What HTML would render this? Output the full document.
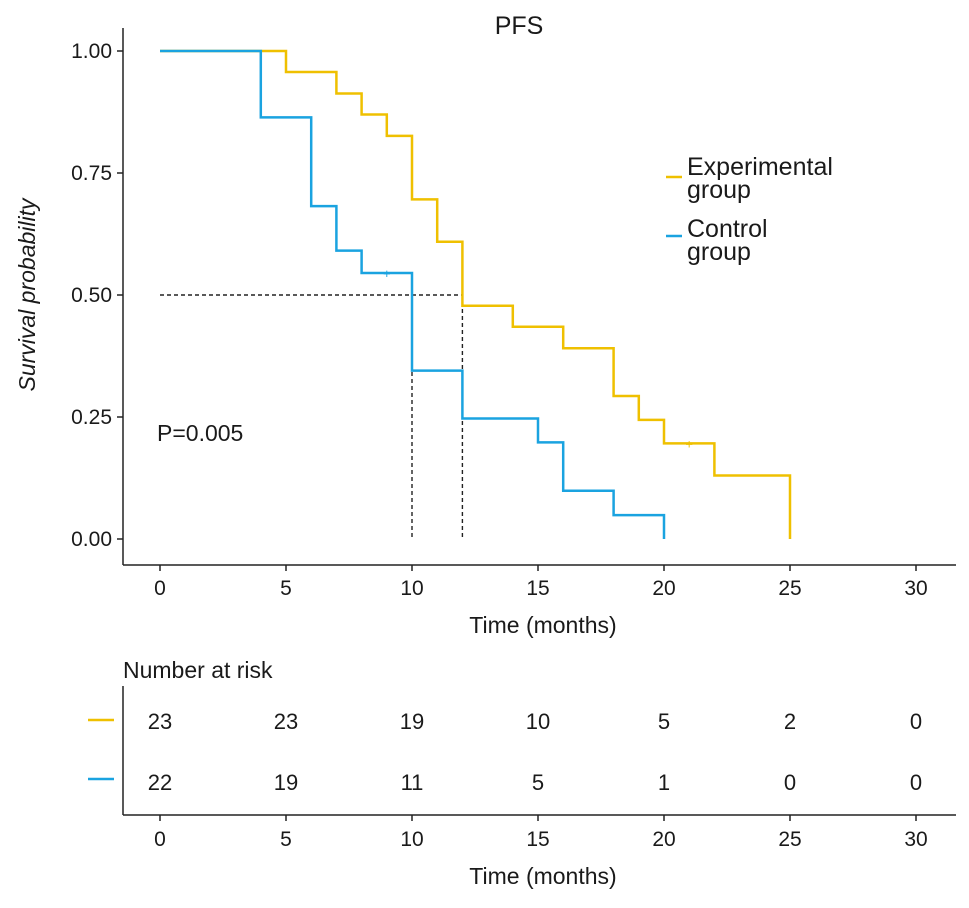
<!DOCTYPE html>
<html><head><meta charset="utf-8"><style>
body{margin:0;background:#fff;font-family:"Liberation Sans",sans-serif}
svg text{font-family:"Liberation Sans",sans-serif}
</style></head><body>
<svg width="969" height="903" xmlns="http://www.w3.org/2000/svg">
<g id="g"></g>
</svg>
<script>
const expTimes=[0,5,7,8,9,10,11,12,14,16,18,19,20,22,25];
const expSurv=[1,0.957,0.913,0.870,0.826,0.696,0.609,0.478,0.435,0.391,0.293,0.244,0.196,0.130,0];
const ctlTimes=[0,4,6,7,8,10,12,15,16,18,20];
const ctlSurv=[1,0.864,0.682,0.591,0.545,0.345,0.247,0.198,0.099,0.049,0];
const expCensor=[[21,0.196]];
const ctlCensor=[[9,0.545]];
const xTicks=[0,5,10,15,20,25,30];
const yTicks=[0,0.25,0.5,0.75,1];
const yTickLabels=["0.00","0.25","0.50","0.75","1.00"];
const expRisk=[23,23,19,10,5,2,0];
const ctlRisk=[22,19,11,5,1,0,0];
const medians=[10,12];
const X=t=>160+t*25.2, Y=s=>539-s*488;
const ns="http://www.w3.org/2000/svg", g=document.getElementById('g');
function el(tag,attrs,name,text){const e=document.createElementNS(ns,tag);for(const k in attrs)e.setAttribute(k,attrs[k]);


if(tag==='text'&&!attrs.fill)e.setAttribute('fill','#1a1a1a');
if(text!==undefined)e.textContent=text;g.appendChild(e);return e;}
el('line',{x1:123,y1:28,x2:123,y2:565,stroke:'#222','stroke-width':1.5},'y-axis');
el('line',{x1:123,y1:565,x2:956,y2:565,stroke:'#222','stroke-width':1.5},'x-axis');
yTicks.forEach((v,i)=>{el('line',{x1:117,x2:123,y1:Y(v),y2:Y(v),stroke:'#222','stroke-width':1.5},'y-tick');
el('text',{x:112,y:Y(v)+7,'text-anchor':'end','font-size':21},'y-tick-label',yTickLabels[i]);});
xTicks.forEach(v=>{el('line',{x1:X(v),x2:X(v),y1:565,y2:571,stroke:'#222','stroke-width':1.5},'x-tick');
el('text',{x:X(v),y:595,'text-anchor':'middle','font-size':21},'x-tick-label',v);});
el('text',{x:543,y:633,'text-anchor':'middle','font-size':23},'x-axis-title','Time (months)');
el('text',{x:0,y:0,'text-anchor':'middle','font-size':23,'font-style':'italic',transform:'translate(35,295) rotate(-90)'},'y-axis-title','Survival probability');
el('text',{x:519,y:34,'text-anchor':'middle','font-size':25},'chart-title','PFS');
el('text',{x:157,y:441,'font-size':23},'p-value','P=0.005');
el('line',{x1:X(0),x2:X(medians[1]),y1:Y(0.5),y2:Y(0.5),stroke:'#222','stroke-width':1.4,'stroke-dasharray':'4,3'},'median-hline');
medians.forEach(m=>el('line',{x1:X(m),x2:X(m),y1:Y(0.5),y2:Y(0),stroke:'#222','stroke-width':1.4,'stroke-dasharray':'4,3'},'median-vline'));
function step(ts,ss,col,name){let d=`M${X(ts[0])},${Y(ss[0])}`;for(let i=1;i<ts.length;i++)d+=`H${X(ts[i])}V${Y(ss[i])}`;
el('path',{d,fill:'none',stroke:col,'stroke-width':2.5},name);}
step(expTimes,expSurv,'#EFC000','experimental-curve');
step(ctlTimes,ctlSurv,'#1AA3E0','control-curve');
expCensor.forEach(c=>el('text',{x:X(c[0]),y:Y(c[1])+5,'text-anchor':'middle','font-size':13,fill:'#EFC000'},'censor-mark','+'));
ctlCensor.forEach(c=>el('text',{x:X(c[0]),y:Y(c[1])+5,'text-anchor':'middle','font-size':13,fill:'#1AA3E0'},'censor-mark','+'));
el('line',{x1:666,x2:682,y1:177,y2:177,stroke:'#EFC000','stroke-width':2.5},'legend-key-experimental');
el('text',{x:687,y:175,'font-size':25},'legend-label-experimental','Experimental');
el('text',{x:687,y:198,'font-size':25},'legend-label-experimental','group');
el('line',{x1:666,x2:682,y1:236,y2:236,stroke:'#1AA3E0','stroke-width':2.5},'legend-key-control');
el('text',{x:687,y:237,'font-size':25},'legend-label-control','Control');
el('text',{x:687,y:260,'font-size':25},'legend-label-control','group');
el('text',{x:123,y:678,'font-size':23},'risk-table-title','Number at risk');
el('line',{x1:123,y1:686,x2:123,y2:815,stroke:'#222','stroke-width':1.5},'risk-y-axis');
el('line',{x1:123,y1:815,x2:956,y2:815,stroke:'#222','stroke-width':1.5},'risk-x-axis');
el('line',{x1:88,x2:114,y1:720,y2:720,stroke:'#EFC000','stroke-width':2.5},'risk-key-experimental');
el('line',{x1:88,x2:114,y1:779,y2:779,stroke:'#1AA3E0','stroke-width':2.5},'risk-key-control');
xTicks.forEach((v,i)=>{
el('text',{x:X(v),y:729,'text-anchor':'middle','font-size':22},'risk-experimental',expRisk[i]);
el('text',{x:X(v),y:790,'text-anchor':'middle','font-size':22},'risk-control',ctlRisk[i]);
el('line',{x1:X(v),x2:X(v),y1:815,y2:821,stroke:'#222','stroke-width':1.5},'risk-x-tick');
el('text',{x:X(v),y:846,'text-anchor':'middle','font-size':21},'risk-x-tick-label',v);});
el('text',{x:543,y:884,'text-anchor':'middle','font-size':23},'risk-x-axis-title','Time (months)');
</script>
</body></html>
